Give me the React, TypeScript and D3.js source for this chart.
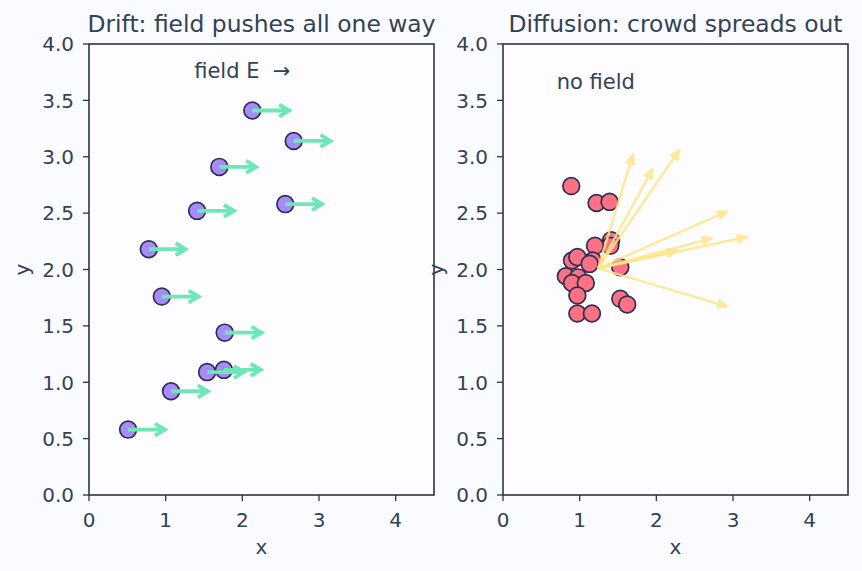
import React from "react";
import * as d3 from "d3";

// drift panel: particle positions, every one pushed the same amount along +x
const driftX = [2.13, 2.67, 1.7, 1.41, 2.56, 0.78, 0.95, 1.77, 1.54, 1.76, 1.07, 0.51];
const driftY = [3.41, 3.14, 2.91, 2.52, 2.58, 2.18, 1.76, 1.44, 1.09, 1.11, 0.92, 0.58];
const driftStep = 0.48;

// diffusion panel: crowd positions around a common start
const crowdX = [0.89, 1.22, 1.39, 1.41, 1.4, 1.2, 1.17, 0.9, 0.97, 1.13, 1.53, 0.82, 0.98, 0.9, 1.08, 0.97, 1.53, 1.62, 0.97, 1.16];
const crowdY = [2.74, 2.59, 2.6, 2.26, 2.21, 2.21, 2.08, 2.08, 2.11, 2.05, 2.02, 1.94, 1.93, 1.88, 1.88, 1.77, 1.74, 1.69, 1.61, 1.61];
const spreadOrigin = [1.24, 2.01];
const spreadTipX = [1.7, 1.96, 2.31, 2.94, 2.74, 3.2, 2.29, 2.94];
const spreadTipY = [3.03, 2.9, 3.07, 2.52, 2.28, 2.29, 2.17, 1.67];

const xTicks = [0, 1, 2, 3, 4];
const yTicks = [0, 0.5, 1, 1.5, 2, 2.5, 3, 3.5, 4];

const W = 862;
const H = 571;
const top = 44;
const bottom = 495;
const panels = [
  { left: 89, right: 434, title: "Drift: field pushes all one way" },
  { left: 503, right: 848, title: "Diffusion: crowd spreads out" },
];

const ink = "#334155";
const spine = "#2d3446";
const font = "DejaVu Sans, sans-serif";

function Axes({ left, right, title, children }) {
  const x = d3.scaleLinear([0, 4.5], [left, right]);
  const y = d3.scaleLinear([0, 4], [bottom, top]);
  return (
    <g>
      <rect x={left} y={top} width={right - left} height={bottom - top} fill="#fdfdff" />
      {children(x, y)}
      <rect x={left} y={top} width={right - left} height={bottom - top} fill="none" stroke={spine} strokeWidth={1.6} />
      {xTicks.map((t) => (
        <g key={"x" + t}>
          <line x1={x(t)} x2={x(t)} y1={bottom} y2={bottom + 6} stroke={spine} strokeWidth={1.3} />
          <text x={x(t)} y={526.5} textAnchor="middle" fontSize={20} fill={ink}>{t}</text>
        </g>
      ))}
      {yTicks.map((t) => (
        <g key={"y" + t}>
          <line x1={left} x2={left - 6} y1={y(t)} y2={y(t)} stroke={spine} strokeWidth={1.3} />
          <text x={left - 15} y={y(t) + 7.3} textAnchor="end" fontSize={20} fill={ink}>{t.toFixed(1)}</text>
        </g>
      ))}
      <text x={(left + right) / 2} y={554} textAnchor="middle" fontSize={20} fill={ink}>x</text>
      <text transform={`translate(${left - 60},${(top + bottom) / 2}) rotate(-90)`} textAnchor="middle" fontSize={20} fill={ink}>y</text>
      <text x={(left + right) / 2} y={31.5} textAnchor="middle" fontSize={23.4} fill={ink}>{title}</text>
    </g>
  );
}

export default function App() {
  return (
    <svg width={W} height={H} style={{ position: "absolute", left: 0, top: 0 }} fontFamily={font}>
      <rect width={W} height={H} fill="#fafbfe" />
      <Axes {...panels[0]}>
        {(x, y) => (
          <g>
            {driftX.map((d, i) => (
              <circle key={i} cx={x(d)} cy={y(driftY[i])} r={8.4} fill="#a78bfa" stroke="#2f2f4f" strokeWidth={1.7} />
            ))}
            {driftX.map((d, i) => {
              const x0 = x(d), y0 = y(driftY[i]), x1 = x(d + driftStep);
              return (
                <path key={i} d={`M${x0},${y0}L${x1},${y0}M${x1 - 10},${y0 - 6}L${x1},${y0}L${x1 - 10},${y0 + 6}`}
                  fill="none" stroke="#6ee7b7" strokeWidth={3.8} strokeLinecap="butt" />
              );
            })}
            <text x={x(2)} y={y(3.7)} textAnchor="middle" fontSize={21} fill={ink} style={{ whiteSpace: "pre" }}>field E  →</text>
          </g>
        )}
      </Axes>
      <Axes {...panels[1]}>
        {(x, y) => (
          <g>
            {crowdX.map((d, i) => (
              <circle key={i} cx={x(d)} cy={y(crowdY[i])} r={8.4} fill="#fb7185" stroke="#2f2f4f" strokeWidth={1.7} />
            ))}
            {spreadTipX.map((d, i) => {
              const x0 = x(spreadOrigin[0]), y0 = y(spreadOrigin[1]);
              const x1 = x(d), y1 = y(spreadTipY[i]);
              const len = Math.hypot(x1 - x0, y1 - y0);
              const ux = (x1 - x0) / len, uy = (y1 - y0) / len;
              const hl = 11, hw = 4.8;
              const bx = x1 - ux * hl, by = y1 - uy * hl;
              return (
                <g key={i} opacity={0.85}>
                  <line x1={x0} y1={y0} x2={bx} y2={by} stroke="#fde68a" strokeWidth={2.5} />
                  <path d={`M${x1},${y1}L${bx - uy * hw},${by + ux * hw}L${bx + uy * hw},${by - ux * hw}Z`} fill="#fde68a" stroke="#fde68a" strokeWidth={1} />
                </g>
              );
            })}
            <text x={x(0.7)} y={y(3.6)} fontSize={21} fill={ink}>no field</text>
          </g>
        )}
      </Axes>
    </svg>
  );
}
